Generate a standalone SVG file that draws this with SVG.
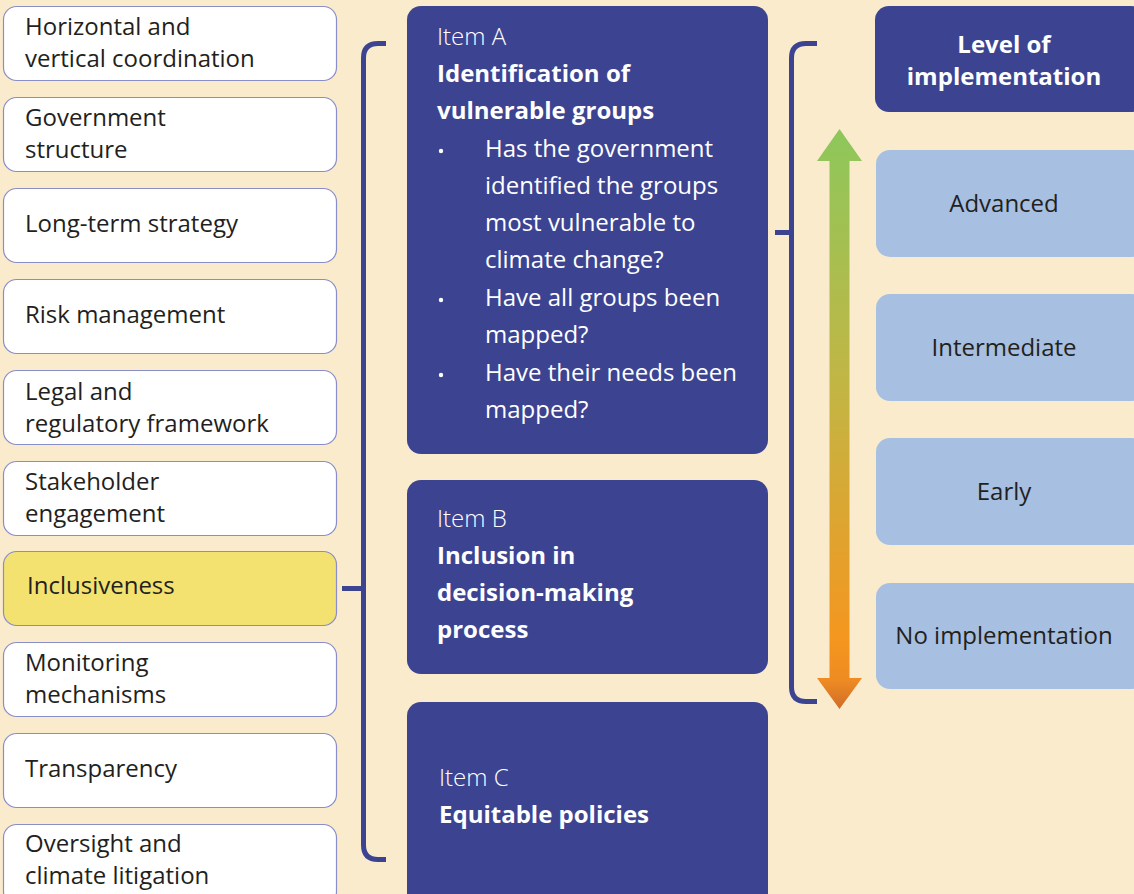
<svg xmlns="http://www.w3.org/2000/svg" width="1134" height="894" viewBox="0 0 1134 894">
<defs>
<style>
.bg{fill:#faebcd}
.lb{fill:#ffffff;stroke:#8a8ec8;stroke-width:1.2}
.hl{fill:#f3e26f;stroke:#8a8ec8;stroke-width:1.2}
.cb{fill:#3c4492}
.rb{fill:#a7bfe0}
.lt{font-family:"Open Sans","Noto Sans",sans-serif;font-size:24px;fill:#231f20}
.wl{font-family:"Open Sans","Noto Sans",sans-serif;font-size:24px;font-weight:300;fill:#ffffff}
.wb{font-family:"Open Sans","Noto Sans",sans-serif;font-size:24px;font-weight:700;fill:#ffffff}
.wt{font-family:"Open Sans","Noto Sans",sans-serif;font-size:24px;fill:#ffffff}
.ct{text-anchor:middle}
.br{fill:none;stroke:#3c4492;stroke-width:5}
</style>
<linearGradient id="ag" x1="0" y1="129" x2="0" y2="709" gradientUnits="userSpaceOnUse">
<stop offset="0" stop-color="#8dc75b"/>
<stop offset="0.45" stop-color="#c3b544"/>
<stop offset="0.88" stop-color="#f4961f"/>
<stop offset="0.95" stop-color="#ef8b22"/>
<stop offset="1" stop-color="#cf6d29"/>
</linearGradient>
</defs>
<rect class="bg" x="0" y="0" width="1134" height="894"/>

<g id="left-nodes">
<g id="n1"><rect class="lb" x="3.5" y="6.5" width="333" height="74" rx="13"/><text class="lt" x="25" y="35">Horizontal and</text><text class="lt" x="25" y="67">vertical coordination</text></g>
<g id="n2"><rect class="lb" x="3.5" y="97.5" width="333" height="74" rx="13"/><text class="lt" x="25" y="126">Government</text><text class="lt" x="25" y="158">structure</text></g>
<g id="n3"><rect class="lb" x="3.5" y="188.5" width="333" height="74" rx="13"/><text class="lt" x="25" y="232">Long-term strategy</text></g>
<g id="n4"><rect class="lb" x="3.5" y="279.5" width="333" height="74" rx="13"/><text class="lt" x="25" y="323">Risk management</text></g>
<g id="n5"><rect class="lb" x="3.5" y="370.5" width="333" height="74" rx="13"/><text class="lt" x="25" y="400">Legal and</text><text class="lt" x="25" y="432">regulatory framework</text></g>
<g id="n6"><rect class="lb" x="3.5" y="461.5" width="333" height="74" rx="13"/><text class="lt" x="25" y="490">Stakeholder</text><text class="lt" x="25" y="522">engagement</text></g>
<g id="n7"><rect class="hl" x="3.5" y="551.5" width="333" height="74" rx="13"/><text class="lt" x="27" y="594">Inclusiveness</text></g>
<g id="n8"><rect class="lb" x="3.5" y="642.5" width="333" height="74" rx="13"/><text class="lt" x="25" y="671">Monitoring</text><text class="lt" x="25" y="703">mechanisms</text></g>
<g id="n9"><rect class="lb" x="3.5" y="733.5" width="333" height="74" rx="13"/><text class="lt" x="25" y="777">Transparency</text></g>
<g id="n10"><rect class="lb" x="3.5" y="824.5" width="333" height="80" rx="13"/><text class="lt" x="25" y="852">Oversight and</text><text class="lt" x="25" y="884">climate litigation</text></g>
</g>

<g id="connectors">
<path class="br" d="M386 43.5 H378 Q363.5 43.5 363.5 58 V845 Q363.5 859.5 378 859.5 H386"/>
<path class="br" d="M342 588.5 H363.5"/>
<path class="br" d="M817 43.5 H806 Q791.5 43.5 791.5 58 V687 Q791.5 701.5 806 701.5 H817"/>
<path class="br" d="M775 232.5 H791.5"/>
<polygon fill="url(#ag)" points="839.5,129 862,161 849.5,161 849.5,678 862,678 839.5,709 817,678 829.5,678 829.5,161 817,161"/>
</g>

<g id="itemA">
<rect class="cb" x="407" y="6" width="361" height="448" rx="14"/>
<text class="wl" x="437" y="45">Item A</text>
<text class="wb" x="437" y="82">Identification of</text>
<text class="wb" x="437" y="119">vulnerable groups</text>
<circle cx="441" cy="151" r="2.2" fill="#ffffff"/>
<text class="wt" x="485" y="157">Has the government</text>
<text class="wt" x="485" y="194">identified the groups</text>
<text class="wt" x="485" y="231">most vulnerable to</text>
<text class="wt" x="485" y="268">climate change?</text>
<circle cx="441" cy="300" r="2.2" fill="#ffffff"/>
<text class="wt" x="485" y="306">Have all groups been</text>
<text class="wt" x="485" y="343">mapped?</text>
<circle cx="441" cy="375" r="2.2" fill="#ffffff"/>
<text class="wt" x="485" y="381">Have their needs been</text>
<text class="wt" x="485" y="418">mapped?</text>
</g>

<g id="itemB">
<rect class="cb" x="407" y="480" width="361" height="194" rx="14"/>
<text class="wl" x="437" y="527">Item B</text>
<text class="wb" x="437" y="564">Inclusion in</text>
<text class="wb" x="437" y="601">decision-making</text>
<text class="wb" x="437" y="638">process</text>
</g>

<g id="itemC">
<rect class="cb" x="407" y="702" width="361" height="210" rx="14"/>
<text class="wl" x="439" y="786">Item C</text>
<text class="wb" x="439" y="823">Equitable policies</text>
</g>

<g id="level-header">
<rect class="cb" x="875" y="6" width="270" height="106" rx="14"/>
<text class="wb ct" x="1004" y="53">Level of</text>
<text class="wb ct" x="1004" y="85">implementation</text>
</g>
<g id="advanced"><rect class="rb" x="876" y="150" width="270" height="107" rx="14"/><text class="lt ct" x="1004" y="212">Advanced</text></g>
<g id="intermediate"><rect class="rb" x="876" y="294" width="270" height="107" rx="14"/><text class="lt ct" x="1004" y="356">Intermediate</text></g>
<g id="early"><rect class="rb" x="876" y="438" width="270" height="107" rx="14"/><text class="lt ct" x="1004" y="500">Early</text></g>
<g id="none"><rect class="rb" x="876" y="583" width="270" height="106" rx="14"/><text class="lt ct" x="1004" y="644">No implementation</text></g>
</svg>
